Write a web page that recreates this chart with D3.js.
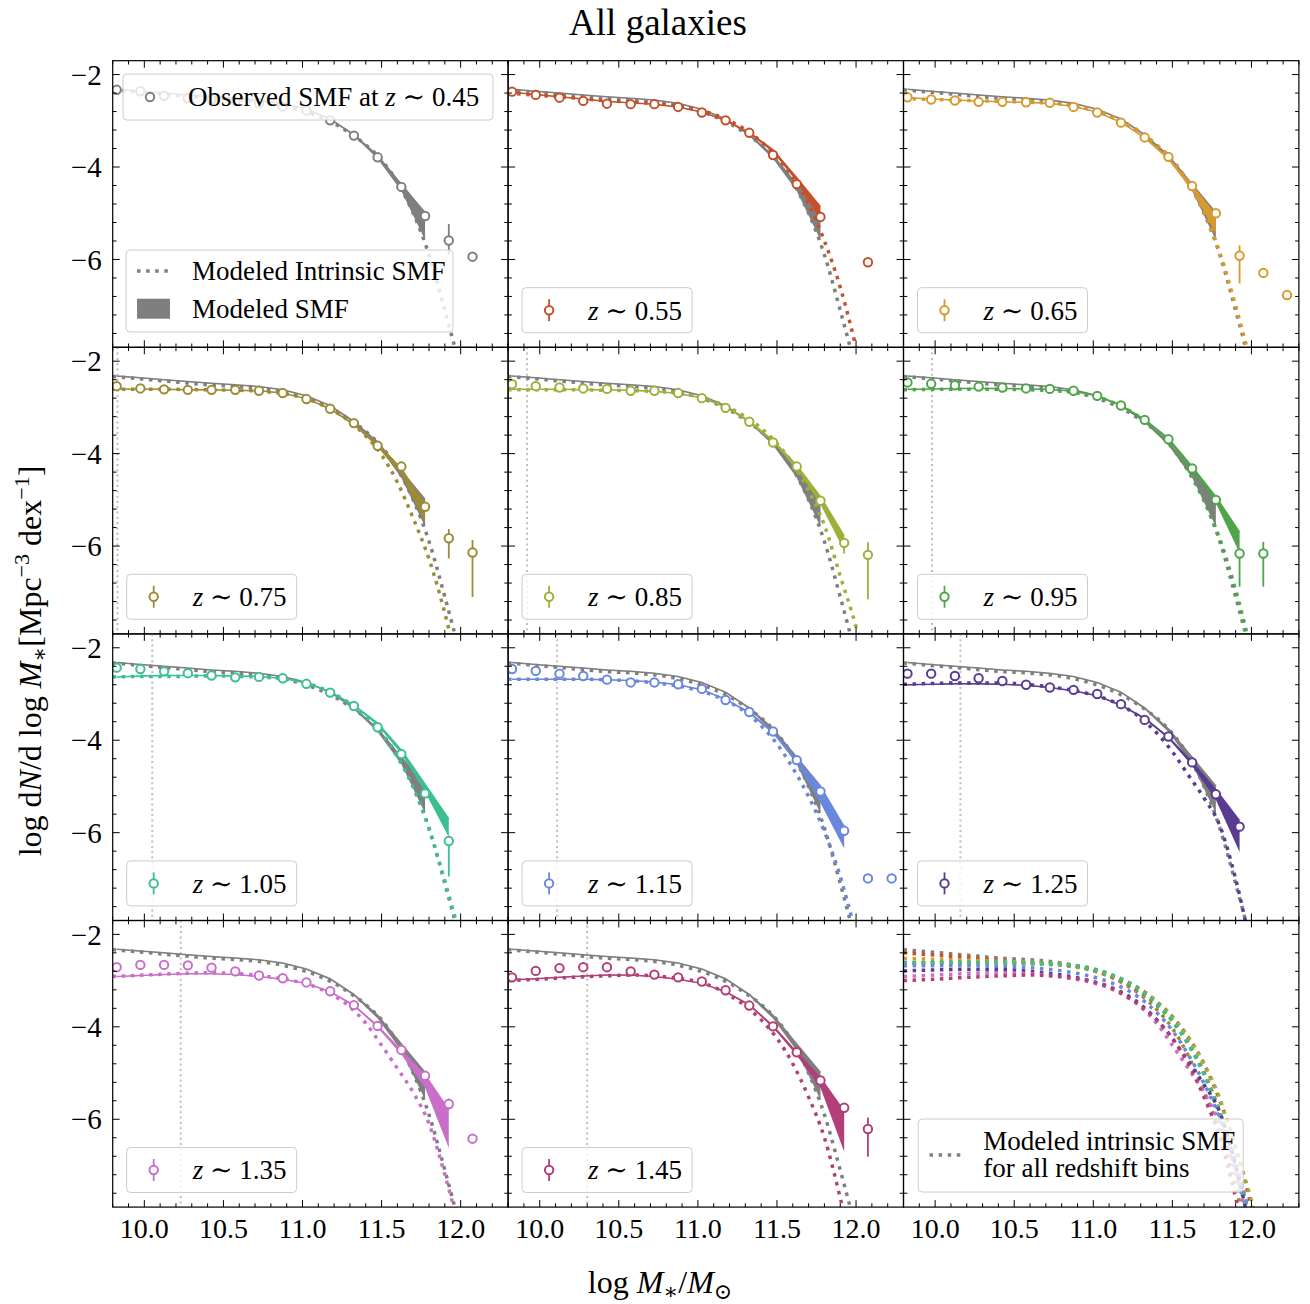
<!DOCTYPE html>
<html>
<head>
<meta charset="utf-8">
<script src="https://cdn.jsdelivr.net/npm/d3@7"></script>
<style>
  body { margin: 0; background: #fff; }
  text { font-family: "Liberation Serif", "DejaVu Serif", serif; fill: #000; }
</style>
</head>
<body>
<svg id="chart" width="1310" height="1304"></svg>
<script>
// ---------------- data ----------------
const zLabels = ["0.45", "0.55", "0.65", "0.75", "0.85", "0.95", "1.05", "1.15", "1.25", "1.35", "1.45"];
const palette = ["#7f7f7f", "#c4512c", "#d79a2e", "#9e8b35", "#9ab23a", "#4fa54c", "#3dbf8f", "#6a87de", "#5a3b92", "#c96fc9", "#b33f79"];

// stellar-mass bins of the observed SMF (log M*/Msun)
const massBins = [9.825, 9.975, 10.125, 10.275, 10.425, 10.575, 10.725, 10.875, 11.025, 11.175, 11.325, 11.475, 11.625, 11.775, 11.925, 12.075, 12.225];

// observed SMF, log dN/dlogM [Mpc^-3 dex^-1]
const obsSMF = [
  [-2.33, -2.36, -2.46, -2.51, -2.54, -2.58, -2.62, -2.69, -2.78, -2.99, -3.32, -3.79, -4.43, -5.06, -5.59, -5.94, null],
  [-2.37, -2.44, -2.50, -2.57, -2.63, -2.64, -2.64, -2.70, -2.82, -2.99, -3.26, -3.74, -4.37, -5.08, null, -6.06, null],
  [-2.49, -2.54, -2.56, -2.59, -2.59, -2.60, -2.61, -2.70, -2.82, -3.04, -3.36, -3.78, -4.41, -5.00, -5.92, -6.29, -6.77],
  [-2.54, -2.59, -2.61, -2.62, -2.62, -2.62, -2.64, -2.69, -2.82, -3.03, -3.34, -3.83, -4.28, -5.15, -5.83, -6.14, null],
  [-2.50, -2.54, -2.57, -2.59, -2.60, -2.64, -2.64, -2.69, -2.80, -3.01, -3.31, -3.76, -4.28, -5.02, -5.93, -6.19, null],
  [-2.46, -2.49, -2.52, -2.55, -2.57, -2.59, -2.60, -2.64, -2.75, -2.96, -3.27, -3.69, -4.32, -5.00, -6.16, -6.16, null],
  [-2.43, -2.46, -2.51, -2.55, -2.60, -2.64, -2.63, -2.66, -2.78, -2.97, -3.26, -3.72, -4.30, -5.15, -6.18, null, null],
  [-2.46, -2.50, -2.56, -2.61, -2.69, -2.75, -2.75, -2.79, -2.89, -3.13, -3.39, -3.81, -4.43, -5.11, -5.96, -6.99, -6.99],
  [-2.56, -2.56, -2.61, -2.66, -2.72, -2.80, -2.86, -2.91, -3.00, -3.22, -3.56, -3.92, -4.48, -5.17, -5.87, null, null],
  [-2.71, -2.66, -2.66, -2.67, -2.72, -2.80, -2.89, -2.95, -3.04, -3.23, -3.53, -3.98, -4.50, -5.06, -5.67, -6.42, null],
  [-2.93, -2.79, -2.73, -2.71, -2.71, -2.80, -2.87, -2.93, -3.02, -3.21, -3.54, -3.99, -4.55, -5.16, -5.75, -6.21, null]
];
const obsErrUp = [
  [0.02, 0.02, 0.02, 0.02, 0.02, 0.02, 0.02, 0.02, 0.02, 0.02, 0.03, 0.03, 0.05, 0.08, 0.36, 0.08, 0],
  [0.02, 0.02, 0.02, 0.02, 0.02, 0.02, 0.02, 0.02, 0.02, 0.02, 0.03, 0.03, 0.05, 0.08, 0, 0.08, 0],
  [0.02, 0.02, 0.02, 0.02, 0.02, 0.02, 0.02, 0.02, 0.02, 0.02, 0.03, 0.03, 0.05, 0.08, 0.23, 0.08, 0.08],
  [0.02, 0.02, 0.02, 0.02, 0.02, 0.02, 0.02, 0.02, 0.02, 0.02, 0.03, 0.03, 0.05, 0.08, 0.20, 0.27, 0],
  [0.02, 0.02, 0.02, 0.02, 0.02, 0.02, 0.02, 0.02, 0.02, 0.02, 0.03, 0.03, 0.05, 0.08, 0.05, 0.27, 0],
  [0.02, 0.02, 0.02, 0.02, 0.02, 0.02, 0.02, 0.02, 0.02, 0.02, 0.03, 0.03, 0.05, 0.08, 0.05, 0.25, 0],
  [0.02, 0.02, 0.02, 0.02, 0.02, 0.02, 0.02, 0.02, 0.02, 0.02, 0.03, 0.03, 0.05, 0.08, 0.05, 0, 0],
  [0.02, 0.02, 0.02, 0.02, 0.02, 0.02, 0.02, 0.02, 0.02, 0.02, 0.03, 0.03, 0.05, 0.08, 0.08, 0.05, 0.05],
  [0.02, 0.02, 0.02, 0.02, 0.02, 0.02, 0.02, 0.02, 0.02, 0.02, 0.03, 0.03, 0.05, 0.08, 0.10, 0, 0],
  [0.02, 0.02, 0.02, 0.02, 0.02, 0.02, 0.02, 0.02, 0.02, 0.02, 0.03, 0.03, 0.05, 0.08, 0.12, 0.08, 0],
  [0.02, 0.02, 0.02, 0.02, 0.02, 0.02, 0.02, 0.02, 0.02, 0.02, 0.03, 0.03, 0.05, 0.08, 0.10, 0.25, 0]
];
const obsErrDn = [
  [0.02, 0.02, 0.02, 0.02, 0.02, 0.02, 0.02, 0.02, 0.02, 0.02, 0.03, 0.03, 0.05, 0.08, 0.31, 0.08, 0],
  [0.02, 0.02, 0.02, 0.02, 0.02, 0.02, 0.02, 0.02, 0.02, 0.02, 0.03, 0.03, 0.05, 0.08, 0, 0.08, 0],
  [0.02, 0.02, 0.02, 0.02, 0.02, 0.02, 0.02, 0.02, 0.02, 0.02, 0.03, 0.03, 0.05, 0.08, 0.60, 0.08, 0.08],
  [0.02, 0.02, 0.02, 0.02, 0.02, 0.02, 0.02, 0.02, 0.02, 0.02, 0.03, 0.03, 0.05, 0.08, 0.44, 0.96, 0],
  [0.02, 0.02, 0.02, 0.02, 0.02, 0.02, 0.02, 0.02, 0.02, 0.02, 0.03, 0.03, 0.05, 0.08, 0.23, 0.96, 0],
  [0.02, 0.02, 0.02, 0.02, 0.02, 0.02, 0.02, 0.02, 0.02, 0.02, 0.03, 0.03, 0.05, 0.08, 0.72, 0.72, 0],
  [0.02, 0.02, 0.02, 0.02, 0.02, 0.02, 0.02, 0.02, 0.02, 0.02, 0.03, 0.03, 0.05, 0.08, 0.77, 0, 0],
  [0.02, 0.02, 0.02, 0.02, 0.02, 0.02, 0.02, 0.02, 0.02, 0.02, 0.03, 0.03, 0.05, 0.08, 0.08, 0.05, 0.05],
  [0.02, 0.02, 0.02, 0.02, 0.02, 0.02, 0.02, 0.02, 0.02, 0.02, 0.03, 0.03, 0.05, 0.08, 0.10, 0, 0],
  [0.02, 0.02, 0.02, 0.02, 0.02, 0.02, 0.02, 0.02, 0.02, 0.02, 0.03, 0.03, 0.05, 0.08, 0.10, 0.08, 0],
  [0.02, 0.02, 0.02, 0.02, 0.02, 0.02, 0.02, 0.02, 0.02, 0.02, 0.03, 0.03, 0.05, 0.08, 0.10, 0.60, 0]
];

// modeled (observable) SMF: central line and lower edge of the band, on massBins
const modSMF = [
  [-2.32, -2.36, -2.40, -2.44, -2.48, -2.51, -2.55, -2.62, -2.75, -2.96, -3.30, -3.75, -4.37, -4.99],
  [-2.38, -2.43, -2.48, -2.53, -2.58, -2.61, -2.64, -2.70, -2.81, -2.99, -3.25, -3.63, -4.23, -4.86],
  [-2.50, -2.53, -2.55, -2.57, -2.59, -2.60, -2.62, -2.69, -2.81, -3.03, -3.36, -3.80, -4.40, -5.05],
  [-2.60, -2.60, -2.61, -2.62, -2.62, -2.63, -2.64, -2.69, -2.81, -3.03, -3.36, -3.80, -4.32, -5.11],
  [-2.61, -2.61, -2.61, -2.62, -2.62, -2.63, -2.65, -2.70, -2.79, -2.99, -3.30, -3.71, -4.25, -4.93, -5.78],
  [-2.61, -2.60, -2.59, -2.59, -2.59, -2.60, -2.61, -2.65, -2.75, -2.95, -3.26, -3.67, -4.28, -4.93, -5.70],
  [-2.63, -2.61, -2.60, -2.60, -2.60, -2.61, -2.62, -2.66, -2.76, -2.95, -3.24, -3.63, -4.21, -4.95, -5.70],
  [-2.68, -2.68, -2.68, -2.68, -2.69, -2.71, -2.74, -2.80, -2.91, -3.11, -3.40, -3.81, -4.41, -5.00, -5.87],
  [-2.80, -2.79, -2.78, -2.78, -2.79, -2.81, -2.86, -2.93, -3.04, -3.24, -3.52, -3.93, -4.47, -5.07, -5.74],
  [-2.91, -2.89, -2.87, -2.85, -2.85, -2.87, -2.91, -2.97, -3.06, -3.24, -3.53, -3.98, -4.52, -5.04, -5.80],
  [-2.98, -2.96, -2.93, -2.90, -2.88, -2.88, -2.91, -2.97, -3.06, -3.24, -3.52, -3.98, -4.55, -5.10, -5.83]
];
const modSMFLow = [
  [-2.33, -2.37, -2.41, -2.45, -2.49, -2.52, -2.56, -2.63, -2.76, -2.98, -3.33, -3.82, -4.52, -5.58],
  [-2.39, -2.44, -2.49, -2.54, -2.59, -2.62, -2.65, -2.71, -2.82, -3.01, -3.28, -3.68, -4.32, -5.15],
  [-2.51, -2.54, -2.56, -2.58, -2.60, -2.61, -2.63, -2.70, -2.82, -3.05, -3.39, -3.85, -4.50, -5.45],
  [-2.61, -2.61, -2.62, -2.63, -2.63, -2.64, -2.65, -2.70, -2.82, -3.05, -3.39, -3.86, -4.45, -5.50],
  [-2.62, -2.62, -2.62, -2.63, -2.63, -2.64, -2.66, -2.71, -2.80, -3.01, -3.33, -3.76, -4.33, -5.10, -6.10],
  [-2.62, -2.61, -2.60, -2.60, -2.60, -2.61, -2.62, -2.66, -2.76, -2.97, -3.29, -3.72, -4.36, -5.07, -6.15],
  [-2.64, -2.62, -2.61, -2.61, -2.61, -2.62, -2.63, -2.67, -2.77, -2.97, -3.27, -3.68, -4.30, -5.12, -6.10],
  [-2.69, -2.69, -2.69, -2.69, -2.70, -2.72, -2.75, -2.81, -2.92, -3.13, -3.43, -3.86, -4.50, -5.36, -6.34],
  [-2.81, -2.80, -2.79, -2.79, -2.80, -2.82, -2.87, -2.94, -3.05, -3.26, -3.55, -3.97, -4.55, -5.29, -6.42],
  [-2.92, -2.90, -2.88, -2.86, -2.86, -2.88, -2.92, -2.98, -3.07, -3.26, -3.56, -4.02, -4.60, -5.32, -6.62],
  [-2.99, -2.97, -2.94, -2.91, -2.89, -2.89, -2.92, -2.98, -3.07, -3.26, -3.55, -4.02, -4.62, -5.32, -6.70]
];

// modeled intrinsic SMF
const intrMass = [9.8, 10.0, 10.2, 10.4, 10.6, 10.8, 11.0, 11.1, 11.2, 11.3, 11.4, 11.5, 11.6, 11.7, 11.8, 11.9, 12.0, 12.1];
const intrSMF = [
  [-2.33, -2.39, -2.45, -2.51, -2.55, -2.62, -2.78, -2.90, -3.06, -3.27, -3.52, -3.85, -4.33, -5.00, -5.90, -7.10, -8.40, -9.90],
  [-2.40, -2.45, -2.50, -2.56, -2.60, -2.65, -2.76, -2.86, -3.00, -3.19, -3.45, -3.78, -4.22, -4.80, -5.60, -6.60, -7.90, -9.40],
  [-2.52, -2.54, -2.56, -2.58, -2.60, -2.64, -2.76, -2.88, -3.04, -3.25, -3.52, -3.86, -4.33, -4.97, -5.85, -7.00, -8.30, -9.80],
  [-2.61, -2.61, -2.61, -2.62, -2.63, -2.67, -2.79, -2.91, -3.08, -3.31, -3.62, -4.03, -4.62, -5.40, -6.28, -7.45, -8.90, -10.5],
  [-2.62, -2.62, -2.62, -2.63, -2.64, -2.67, -2.77, -2.87, -3.01, -3.20, -3.45, -3.78, -4.22, -4.80, -5.55, -6.65, -7.75, -9.20],
  [-2.62, -2.61, -2.61, -2.61, -2.62, -2.65, -2.75, -2.86, -3.02, -3.23, -3.52, -3.88, -4.38, -5.02, -5.85, -6.95, -8.30, -9.80],
  [-2.63, -2.62, -2.62, -2.61, -2.62, -2.65, -2.74, -2.85, -3.00, -3.21, -3.49, -3.86, -4.36, -5.02, -5.92, -7.05, -8.30, -9.80],
  [-2.68, -2.68, -2.68, -2.69, -2.72, -2.79, -2.92, -3.03, -3.18, -3.39, -3.69, -4.08, -4.60, -5.22, -5.98, -6.95, -8.20, -9.60],
  [-2.79, -2.77, -2.76, -2.76, -2.80, -2.88, -3.02, -3.13, -3.29, -3.52, -3.84, -4.25, -4.75, -5.25, -5.85, -7.00, -8.50, -10.0],
  [-2.91, -2.88, -2.85, -2.83, -2.85, -2.92, -3.05, -3.16, -3.33, -3.57, -3.92, -4.40, -4.90, -5.42, -6.10, -7.20, -8.50, -10.0],
  [-3.00, -2.97, -2.93, -2.90, -2.88, -2.92, -3.03, -3.14, -3.32, -3.55, -3.85, -4.25, -4.80, -5.52, -6.40, -7.70, -9.20, -10.8]
];

// mass completeness limit of each redshift bin
const complLimit = [null, null, null, 9.83, 9.92, 9.98, 10.05, 10.11, 10.16, 10.23, 10.30];

// axis ticks
const xMajor = [10.0, 10.5, 11.0, 11.5, 12.0];
const xMinor = [9.8, 9.9, 10.1, 10.2, 10.3, 10.4, 10.6, 10.7, 10.8, 10.9, 11.1, 11.2, 11.3, 11.4, 11.6, 11.7, 11.8, 11.9, 12.1, 12.2, 12.3];
const yMajor = [-2, -4, -6];
const yMinor = [-2.4, -2.8, -3.2, -3.6, -4.4, -4.8, -5.2, -5.6, -6.4, -6.8, -7.2, -7.6];

// ---------------- layout ----------------
const svg = d3.select("#chart");
const L = 112.7, T = 60.7, PW = 395.4, PH = 286.6;
const x = d3.scaleLinear().domain([9.8, 12.3]).range([0, PW]);
const y = d3.scaleLinear().domain([-7.9, -1.7]).range([PH, 0]);

const FONT = 28, LEG_FONT = 27;
const DOT_W = 3.5, DOT_DASH = "3.5 5.6";

const defs = svg.append("defs");
defs.append("clipPath").attr("id", "panelClip")
  .append("rect").attr("x", 0).attr("y", 0).attr("width", PW).attr("height", PH);

const intrLine = d3.line().x(d => x(d[0])).y(d => y(d[1])).curve(d3.curveMonotoneX);
const modLine = d3.line().x(d => x(d[0])).y(d => y(d[1]));
const modArea = d3.area().x(d => x(d[0])).y0(d => y(d[2])).y1(d => y(d[1]));

function drawIntrinsic(g, k) {
  const pts = intrMass.map((m, j) => [m, intrSMF[k][j]]);
  g.append("path").attr("d", intrLine(pts))
    .attr("fill", "none").attr("stroke", palette[k])
    .attr("stroke-width", DOT_W).attr("stroke-dasharray", DOT_DASH);
}

function drawModel(g, k) {
  const pts = modSMF[k].map((v, j) => [massBins[j], v, modSMFLow[k][j]]);
  g.append("path").attr("d", modArea(pts)).attr("fill", palette[k]).attr("stroke", "none");
  g.append("path").attr("d", modLine(pts)).attr("fill", "none")
    .attr("stroke", palette[k]).attr("stroke-width", 1.5);
}

function drawObserved(g, k) {
  const pts = massBins.map((m, j) => ({ m, v: obsSMF[k][j], up: obsErrUp[k][j], dn: obsErrDn[k][j] }))
    .filter(d => d.v !== null);
  g.selectAll(null).data(pts).enter().append("line")
    .attr("x1", d => x(d.m)).attr("x2", d => x(d.m))
    .attr("y1", d => y(d.v + d.up)).attr("y2", d => y(d.v - d.dn))
    .attr("stroke", palette[k]).attr("stroke-width", 1.8);
  g.selectAll(null).data(pts).enter().append("circle")
    .attr("cx", d => x(d.m)).attr("cy", d => y(d.v)).attr("r", 4.2)
    .attr("fill", "#fff").attr("stroke", palette[k]).attr("stroke-width", 2);
}

function legendBox(g, bx, by, bw, bh) {
  g.append("rect").attr("x", bx).attr("y", by).attr("width", bw).attr("height", bh)
    .attr("rx", 4).attr("fill", "#fff").attr("fill-opacity", 0.8)
    .attr("stroke", "#cccccc").attr("stroke-width", 1);
}

function markerHandle(g, cx, cy, col, withBar) {
  if (withBar) {
    g.append("line").attr("x1", cx).attr("x2", cx).attr("y1", cy - 11).attr("y2", cy + 11)
      .attr("stroke", col).attr("stroke-width", 1.8);
  }
  g.append("circle").attr("cx", cx).attr("cy", cy).attr("r", 4.2)
    .attr("fill", "#fff").attr("stroke", col).attr("stroke-width", 2);
}

function zText(g, tx, ty, prefix, z) {
  const t = g.append("text").attr("x", tx).attr("y", ty).attr("dy", "0.35em")
    .attr("font-size", LEG_FONT);
  if (prefix) t.append("tspan").text(prefix);
  t.append("tspan").attr("font-style", "italic").text("z");
  t.append("tspan").text(" \u223C " + z);
}

function drawFrame(g, row, col) {
  const tk = g.append("g").attr("stroke", "#000").attr("stroke-width", 1);
  xMajor.forEach(v => {
    tk.append("line").attr("x1", x(v)).attr("x2", x(v)).attr("y1", PH).attr("y2", PH - 7);
    tk.append("line").attr("x1", x(v)).attr("x2", x(v)).attr("y1", 0).attr("y2", 7);
  });
  xMinor.forEach(v => {
    tk.append("line").attr("x1", x(v)).attr("x2", x(v)).attr("y1", PH).attr("y2", PH - 3.8);
    tk.append("line").attr("x1", x(v)).attr("x2", x(v)).attr("y1", 0).attr("y2", 3.8);
  });
  yMajor.forEach(v => {
    tk.append("line").attr("x1", 0).attr("x2", 7).attr("y1", y(v)).attr("y2", y(v));
    tk.append("line").attr("x1", PW).attr("x2", PW - 7).attr("y1", y(v)).attr("y2", y(v));
  });
  yMinor.forEach(v => {
    tk.append("line").attr("x1", 0).attr("x2", 3.8).attr("y1", y(v)).attr("y2", y(v));
    tk.append("line").attr("x1", PW).attr("x2", PW - 3.8).attr("y1", y(v)).attr("y2", y(v));
  });
  g.append("rect").attr("x", 0).attr("y", 0).attr("width", PW).attr("height", PH)
    .attr("fill", "none").attr("stroke", "#000").attr("stroke-width", 1.2);

  if (row === 3) {
    g.selectAll(null).data(xMajor).enter().append("text")
      .attr("x", d => x(d)).attr("y", PH + 31).attr("text-anchor", "middle")
      .attr("font-size", FONT).text(d => d.toFixed(1));
  }
  if (col === 0) {
    g.selectAll(null).data(yMajor).enter().append("text")
      .attr("x", -11).attr("y", d => y(d)).attr("dy", "0.35em").attr("text-anchor", "end")
      .attr("font-size", 29).text(d => "\u2212" + Math.abs(d));
  }
}

// ---------------- panels ----------------
for (let p = 0; p < 12; p++) {
  const row = Math.floor(p / 3), col = p % 3;
  const g = svg.append("g").attr("transform", `translate(${L + col * PW},${T + row * PH})`);
  const plot = g.append("g").attr("clip-path", "url(#panelClip)");

  if (p === 11) {
    // intrinsic SMF of every redshift bin together
    for (let k = 0; k < 11; k++) drawIntrinsic(plot, k);
    legendBox(g, 14.7, 198.5, 325, 73);
    g.append("path").attr("d", `M26,234.5H58`).attr("stroke", "#7f7f7f")
      .attr("stroke-width", DOT_W).attr("stroke-dasharray", DOT_DASH);
    const lt = g.append("text").attr("font-size", LEG_FONT);
    lt.append("tspan").attr("x", 79.7).attr("y", 220.5).attr("dy", "0.35em").text("Modeled intrinsic SMF");
    lt.append("tspan").attr("x", 79.7).attr("y", 247.5).attr("dy", "0.35em").text("for all redshift bins");
    drawFrame(g, row, col);
    continue;
  }

  const k = p;
  if (complLimit[k] !== null) {
    plot.append("line").attr("x1", x(complLimit[k])).attr("x2", x(complLimit[k]))
      .attr("y1", 0).attr("y2", PH).attr("stroke", "#bdbdbd").attr("stroke-width", 2)
      .attr("stroke-dasharray", "2 3.3");
  }
  // z ~ 0.45 reference model
  drawIntrinsic(plot, 0);
  drawModel(plot, 0);
  if (k > 0) {
    drawIntrinsic(plot, k);
    drawModel(plot, k);
  }
  drawObserved(plot, k);

  if (k === 0) {
    legendBox(g, 10.3, 13.3, 370, 46);
    markerHandle(g, 37.3, 36.3, palette[0], false);
    zText(g, 75.3, 36.3, "Observed SMF at ", zLabels[0]);

    legendBox(g, 13.3, 189.3, 327, 82);
    g.append("path").attr("d", `M24.3,210.3H57.3`).attr("stroke", palette[0])
      .attr("stroke-width", DOT_W).attr("stroke-dasharray", DOT_DASH);
    g.append("rect").attr("x", 24.3).attr("y", 238).attr("width", 33).attr("height", 20)
      .attr("fill", palette[0]);
    g.append("text").attr("x", 79.3).attr("y", 210.3).attr("dy", "0.35em").attr("font-size", LEG_FONT)
      .text("Modeled Intrinsic SMF");
    g.append("text").attr("x", 79.3).attr("y", 248).attr("dy", "0.35em").attr("font-size", LEG_FONT)
      .text("Modeled SMF");
  } else {
    legendBox(g, 14, 227, 170, 45);
    markerHandle(g, 41, 249.5, palette[k], true);
    zText(g, 80, 249.5, null, zLabels[k]);
  }
  drawFrame(g, row, col);
}

// ---------------- titles ----------------
svg.append("text").attr("x", 658).attr("y", 22).attr("dy", "0.35em")
  .attr("text-anchor", "middle").attr("font-size", 37).text("All galaxies");

const xl = svg.append("text").attr("x", 660).attr("y", 1282).attr("dy", "0.35em")
  .attr("text-anchor", "middle").attr("font-size", 32);
xl.append("tspan").text("log ");
xl.append("tspan").attr("font-style", "italic").text("M");
xl.append("tspan").attr("font-size", 22).attr("dy", 6).text("\u2217");
xl.append("tspan").attr("dy", -6).text("/");
xl.append("tspan").attr("font-style", "italic").text("M");
xl.append("tspan").attr("font-size", 22).attr("dy", 6).text("\u2299");

const yl = svg.append("text").attr("transform", "translate(30,661) rotate(-90)")
  .attr("text-anchor", "middle").attr("dy", "0.35em").attr("font-size", 32);
yl.append("tspan").text("log d");
yl.append("tspan").attr("font-style", "italic").text("N");
yl.append("tspan").text("/d log ");
yl.append("tspan").attr("font-style", "italic").text("M");
yl.append("tspan").attr("font-size", 22).attr("dy", 6).text("\u2217");
yl.append("tspan").attr("dy", -6).text("[Mpc");
yl.append("tspan").attr("font-size", 22).attr("dy", -12).text("\u22123");
yl.append("tspan").attr("dy", 12).text(" dex");
yl.append("tspan").attr("font-size", 22).attr("dy", -12).text("\u22121");
yl.append("tspan").attr("dy", 12).text("]");
</script>
</body>
</html>
